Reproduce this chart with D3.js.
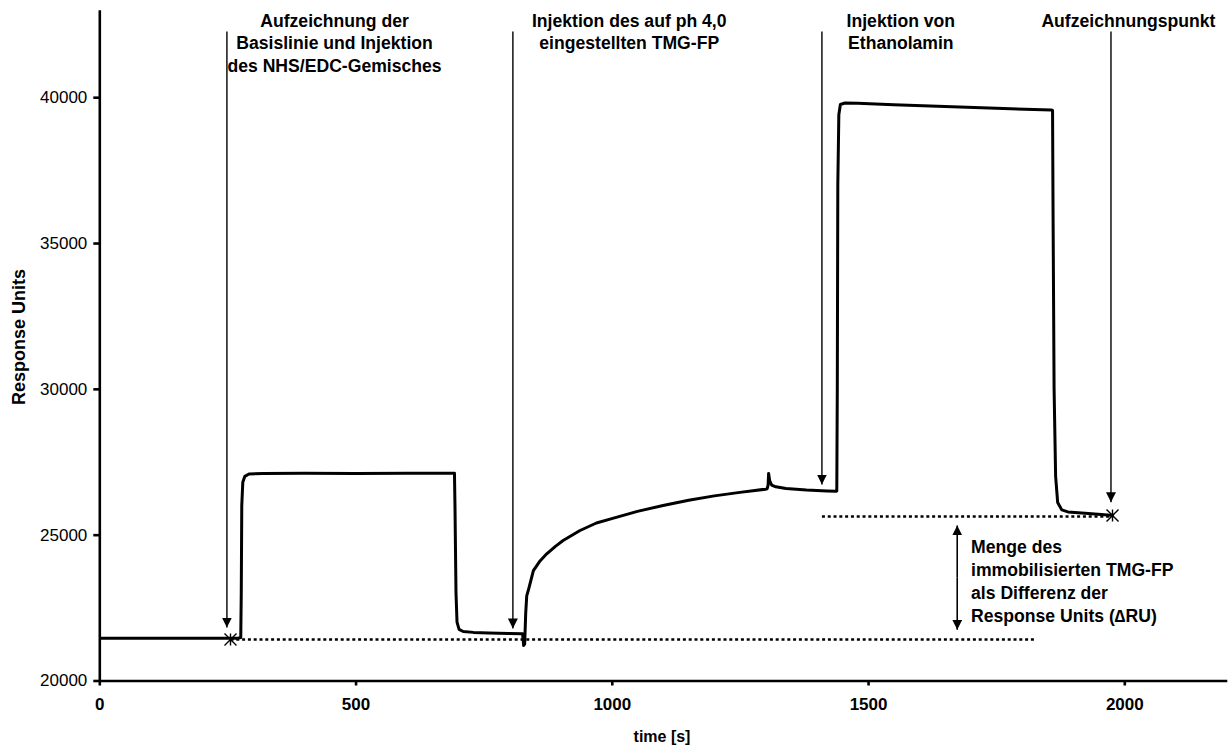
<!DOCTYPE html>
<html><head><meta charset="utf-8">
<script src="https://cdn.jsdelivr.net/npm/d3@7"></script>
<style>
html,body{margin:0;padding:0;background:#fff;}
svg text{font-family:"Liberation Sans",Arial,sans-serif;fill:#000;}
</style></head>
<body><svg id="c" width="1232" height="748"></svg>
<script>
// ---- data ----
const timeS = [0,270,276,277,278,280,284,292,320,400,500,600,690,693,694,696,698,702,710,730,760,800,826,828,830,832,834,837,847,860,873,890,905,938,970,1000,1050,1100,1150,1200,1250,1300,1303,1305,1306,1308,1312,1320,1340,1380,1420,1438,1439,1440,1441,1443,1446,1455,1480,1550,1650,1750,1858,1860,1861,1863,1866,1870,1878,1890,1930,1980];
const responseRU = [21450,21450,21470,23000,26000,26800,27000,27080,27100,27110,27100,27110,27110,27110,26000,23000,22000,21750,21680,21650,21630,21610,21600,21200,21250,22300,22900,23085,23770,24100,24343,24600,24800,25143,25400,25550,25800,26000,26180,26330,26450,26560,26570,26700,27100,26850,26700,26640,26580,26530,26500,26490,26500,30000,37000,39400,39750,39800,39790,39740,39680,39620,39560,39550,36000,30000,27000,26100,25850,25780,25730,25660];
const xTicks = [0,500,1000,1500,2000];
const yTicks = [20000,25000,30000,35000,40000];
const arrowX = [249,807,1410,1974];
const arrowTipY = [21817,21783,26720,26113];
const arrowTopY = 42250;
const labelX = [459,1034,1564,2008];
const labelLines = [
  ["Aufzeichnung der","Basislinie und Injektion","des NHS/EDC-Gemisches"],
  ["Injektion des auf ph 4,0","eingestellten TMG-FP"],
  ["Injektion von","Ethanolamin"],
  ["Aufzeichnungspunkt"]
];
const dotLines = [{x0:256,x1:1829,y:21405},{x0:1410,x1:1977,y:25623}];
const starPoints = [{t:256,v:21405},{t:1977,v:25657}];
const deltaArrow = {t:1674, v0:25315, v1:21740};
const deltaText = ["Menge des","immobilisierten TMG-FP","als Differenz der","Response Units (\u2206RU)"];
const deltaTextPos = {t:1701, v:24370};

// ---- chart ----
const svg = d3.select("#c");
const x = d3.scaleLinear().domain([0,2200]).range([99.3,1226.8]);
const y = d3.scaleLinear().domain([20000,43000]).range([680.5,9.7]);

const defs = svg.append("defs");
defs.append("marker").attr("id","ah").attr("viewBox","0 0 10 10").attr("refX",10).attr("refY",5)
  .attr("markerWidth",10).attr("markerHeight",10).attr("markerUnits","userSpaceOnUse").attr("orient","auto")
  .append("path").attr("d","M0,0L10,5L0,10Z").attr("fill","#000");

// axes
const gy = svg.append("g").attr("transform",`translate(${x(0)},0)`)
  .call(d3.axisLeft(y).tickValues(yTicks).tickSizeInner(6).tickSizeOuter(0).tickPadding(6).tickFormat(d3.format("d")));
gy.select(".domain").attr("stroke","#000").attr("stroke-width",2.6);
gy.selectAll(".tick line").attr("stroke","#000").attr("stroke-width",2.6);
gy.selectAll(".tick text").attr("font-size",17).attr("font-family","Liberation Sans, Arial");

const gx = svg.append("g").attr("transform",`translate(0,${y(20000)})`)
  .call(d3.axisBottom(x).tickValues(xTicks).tickSizeInner(5).tickSizeOuter(0).tickPadding(12).tickFormat(d3.format("d")));
gx.select(".domain").attr("stroke","#000").attr("stroke-width",2.6);
gx.selectAll(".tick line").attr("stroke","#000").attr("stroke-width",2.6);
gx.selectAll(".tick text").attr("font-size",17).attr("font-weight","bold").attr("font-family","Liberation Sans, Arial");

svg.append("text").attr("x",662).attr("y",742).attr("text-anchor","middle")
  .attr("font-size",16).attr("font-weight","bold").text("time [s]");
svg.append("text").attr("transform","translate(24.5,337) rotate(-90)").attr("text-anchor","middle")
  .attr("font-size",18).attr("font-weight","bold").text("Response Units");

// dotted lines
svg.selectAll(".dl").data(dotLines).join("line")
  .attr("x1",d=>x(d.x0)).attr("x2",d=>x(d.x1)).attr("y1",d=>y(d.y)).attr("y2",d=>y(d.y))
  .attr("stroke","#000").attr("stroke-width",2.7).attr("stroke-dasharray","3,2.8");

// curve
const pts = timeS.map((t,i)=>[t,responseRU[i]]);
svg.append("path").datum(pts)
  .attr("d",d3.line().x(d=>x(d[0])).y(d=>y(d[1])))
  .attr("fill","none").attr("stroke","#000").attr("stroke-width",3).attr("stroke-linejoin","round");

// arrows
arrowX.forEach((t,i)=>{
  svg.append("line").attr("x1",x(t)).attr("x2",x(t)).attr("y1",y(arrowTopY)).attr("y2",y(arrowTipY[i]))
    .attr("stroke","#000").attr("stroke-width",1.4).attr("marker-end","url(#ah)");
});

// labels
labelLines.forEach((lines,i)=>{
  const t = svg.append("text").attr("text-anchor","middle").attr("font-size",17.6).attr("font-weight","bold");
  lines.forEach((s,j)=>t.append("tspan").attr("x",x(labelX[i])).attr("y",27+j*22.3).text(s));
});

// stars
starPoints.forEach(p=>{
  const cx=x(p.t), cy=y(p.v), r=6;
  svg.append("path").attr("d",`M${cx-r},${cy-r}L${cx+r},${cy+r}M${cx-r},${cy+r}L${cx+r},${cy-r}M${cx},${cy-r}L${cx},${cy+r}`)
    .attr("stroke","#000").attr("stroke-width",1.4);
});

// delta arrow
const xa = x(deltaArrow.t), ym = (y(deltaArrow.v0)+y(deltaArrow.v1))/2;
svg.append("line").attr("x1",xa).attr("x2",xa).attr("y1",ym).attr("y2",y(deltaArrow.v0))
  .attr("stroke","#000").attr("stroke-width",1.6).attr("marker-end","url(#ah)");
svg.append("line").attr("x1",xa).attr("x2",xa).attr("y1",ym).attr("y2",y(deltaArrow.v1))
  .attr("stroke","#000").attr("stroke-width",1.6).attr("marker-end","url(#ah)");
const dt = svg.append("text").attr("font-size",17.6).attr("font-weight","bold");
deltaText.forEach((s,j)=>dt.append("tspan").attr("x",x(deltaTextPos.t)).attr("y",y(deltaTextPos.v)+j*22.9).text(s));
</script></body></html>
